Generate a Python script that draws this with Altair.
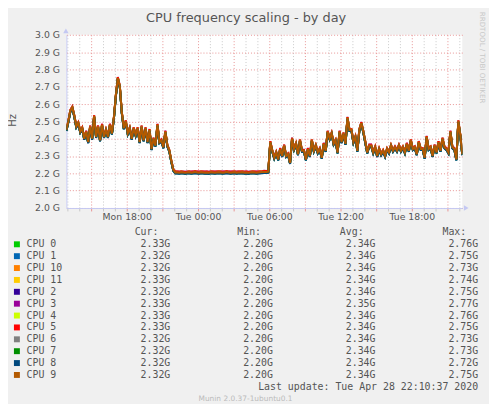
import altair as alt
import pandas as pd

# ---------------- data ----------------
cpu_names = ["CPU 0", "CPU 1", "CPU 10", "CPU 11", "CPU 2", "CPU 3",
             "CPU 4", "CPU 5", "CPU 6", "CPU 7", "CPU 8", "CPU 9"]
cpu_colors = ["#00CC00", "#0066B3", "#FF8000", "#FFCC00", "#330099", "#990099",
              "#CCFF00", "#FF0000", "#808080", "#008F00", "#00487D", "#B35A00"]
# small per-CPU spread around the common trace (GHz)
cpu_offset_ghz = [-0.003, -0.005, 0.001, 0.003, -0.002, 0.006,
                  0.004, 0.005, -0.001, -0.004, -0.006, 0.0]

# common frequency trace (GHz), one value every 10 minutes from Mon 12:55 UTC
freq_ghz = [
    2.45, 2.50, 2.56, 2.58, 2.53, 2.47, 2.49, 2.44, 2.46, 2.40,
    2.44, 2.38, 2.47, 2.40, 2.53, 2.41, 2.47, 2.39, 2.48, 2.41,
    2.45, 2.41, 2.48, 2.43, 2.52, 2.65, 2.75, 2.70, 2.55, 2.46,
    2.50, 2.43, 2.46, 2.40, 2.46, 2.42, 2.46, 2.38, 2.47, 2.39,
    2.46, 2.38, 2.45, 2.34, 2.40, 2.36, 2.48, 2.38, 2.39, 2.35,
    2.44, 2.36, 2.33, 2.27, 2.22, 2.205, 2.205, 2.204, 2.206, 2.205,
    2.203, 2.205, 2.206, 2.204, 2.205, 2.207, 2.205, 2.204, 2.206, 2.205,
    2.204, 2.205, 2.203, 2.206, 2.205, 2.204, 2.205, 2.206, 2.205, 2.204,
    2.205, 2.207, 2.205, 2.204, 2.205, 2.206, 2.204, 2.205, 2.205, 2.206,
    2.204, 2.205, 2.203, 2.205, 2.206, 2.205, 2.204, 2.205, 2.206, 2.207,
    2.209, 2.208, 2.21, 2.38, 2.33, 2.29, 2.32, 2.28, 2.34, 2.30,
    2.36, 2.30, 2.31, 2.26, 2.40, 2.34, 2.37, 2.31, 2.39, 2.33,
    2.33, 2.28, 2.34, 2.30, 2.39, 2.33, 2.36, 2.32, 2.34, 2.29,
    2.37, 2.33, 2.44, 2.40, 2.43, 2.37, 2.39, 2.32, 2.44, 2.38,
    2.43, 2.37, 2.52, 2.45, 2.45, 2.38, 2.41, 2.33, 2.45, 2.49,
    2.44, 2.38, 2.32, 2.36, 2.36, 2.32, 2.35, 2.30, 2.34, 2.31,
    2.33, 2.30, 2.34, 2.32, 2.36, 2.33, 2.35, 2.33, 2.36, 2.33,
    2.35, 2.32, 2.37, 2.33, 2.39, 2.34, 2.35, 2.31, 2.38, 2.34,
    2.34, 2.29, 2.41, 2.34, 2.35, 2.30, 2.36, 2.32, 2.38, 2.33,
    2.40, 2.35, 2.34, 2.32, 2.44, 2.35, 2.34, 2.28, 2.50, 2.42,
    2.31,
]

cur_vals = ["2.33G", "2.32G", "2.32G", "2.33G", "2.32G", "2.33G",
            "2.33G", "2.33G", "2.32G", "2.32G", "2.32G", "2.32G"]
min_vals = ["2.20G"] * 12
avg_vals = ["2.34G", "2.34G", "2.34G", "2.34G", "2.34G", "2.35G",
            "2.34G", "2.34G", "2.34G", "2.34G", "2.34G", "2.34G"]
max_vals = ["2.76G", "2.75G", "2.73G", "2.74G", "2.75G", "2.77G",
            "2.76G", "2.75G", "2.73G", "2.73G", "2.72G", "2.75G"]

stat_cols = ["Cur", "Min", "Avg", "Max"]
y_ticks = [2.0, 2.1, 2.2, 2.3, 2.4, 2.5, 2.6, 2.7, 2.8, 2.9, 3.0]

title_text = "CPU frequency scaling - by day"
update_text = "Last update: Tue Apr 28 22:10:37 2020"
version_text = "Munin 2.0.37-1ubuntu0.1"
rrd_text = "RRDTOOL / TOBI OETIKER"

# ---------------- tables ----------------
times = pd.date_range("2020-04-27 12:55", periods=len(freq_ghz), freq="10min", tz="UTC")
time_str = [t.strftime("%Y-%m-%dT%H:%M:%SZ") for t in times]

rows = []
for name, off in zip(cpu_names, cpu_offset_ghz):
    for t, v in zip(time_str, freq_ghz):
        rows.append({"cpu": name, "time": t, "val": round(v + off, 4)})
df_lines = pd.DataFrame(rows)

hour_ticks = pd.date_range("2020-04-27 13:00", "2020-04-28 22:00", freq="h", tz="UTC")
hour_tick_ms = [int(t.timestamp() * 1000) for t in hour_ticks]

row_order = ["hdr"] + cpu_names + ["upd", "ver"]

val_rows = []
for i, name in enumerate(cpu_names):
    for col, arr in zip(stat_cols, [cur_vals, min_vals, avg_vals, max_vals]):
        val_rows.append({"row": name, "col": col, "text": arr[i]})
val_rows.append({"row": "upd", "col": "Max", "text": update_text})
df_vals = pd.DataFrame(val_rows)
df_hdr = pd.DataFrame({"row": ["hdr"] * 4, "col": stat_cols, "text": [c + ":" for c in stat_cols]})
df_sw = pd.DataFrame({"cpu": cpu_names, "row": cpu_names})

# ---------------- styling ----------------
TXT = "#555555"
AXIS_C = "#C4C8F2"
MAJOR = "#E89494"
MINOR = "#C8C8C8"

color_scale = alt.Scale(domain=cpu_names, range=cpu_colors)
row_scale = alt.Scale(domain=row_order, range=[199.7, 367.7], padding=0)
col_scale = alt.Scale(domain=stat_cols, range=[105, 416], padding=0)

x_enc = alt.X(
    "time:T",
    scale=alt.Scale(type="utc", domain=[
        alt.DateTime(year=2020, month=4, date=27, hours=12, minutes=55, utc=True),
        alt.DateTime(year=2020, month=4, date=28, hours=22, minutes=15, utc=True)]),
    axis=alt.Axis(
        title=None, values=hour_tick_ms,
        labelExpr="utchours(datum.value) % 6 === 0 ? utcFormat(datum.value, '%a %H:%M') : ''",
        labelOverlap=False, labelFlush=False,
        labelFont="DejaVu Sans", labelFontSize=9.4, labelColor=TXT, labelPadding=2,
        tickSize=3,
        tickColor={"condition": {"test": "utchours(datum.value) % 3 === 0", "value": MAJOR}, "value": MINOR},
        grid=True, gridDash=[1, 2], gridWidth=1,
        gridColor={"condition": {"test": "utchours(datum.value) % 3 === 0", "value": MAJOR}, "value": MINOR},
        domainColor=AXIS_C, domainWidth=1),
)
y_enc = alt.Y(
    "val:Q",
    scale=alt.Scale(domain=[2.0, 3.0], nice=False, zero=False),
    axis=alt.Axis(
        values=y_ticks, labelExpr="format(datum.value, '.1f') + ' G'",
        labelFont="DejaVu Sans", labelFontSize=9.4, labelColor=TXT, labelPadding=7,
        ticks=False, grid=True, gridColor=MAJOR, gridDash=[1, 2],
        domainColor=AXIS_C,
        title="Hz", titleFont="DejaVu Sans", titleFontSize=10, titleFontWeight="normal",
        titleColor=TXT, titleAngle=270, titleAlign="center", titleBaseline="middle",
        titleX=-54, titleY=86),
)

lines = alt.Chart(df_lines).mark_line(strokeWidth=2, clip=True).encode(
    x=x_enc, y=y_enc,
    color=alt.Color("cpu:N", scale=color_scale, legend=None),
)

swatches = alt.Chart(df_sw).mark_square(size=36, opacity=1).encode(
    x=alt.value(-50),
    y=alt.Y("row:N", scale=row_scale, axis=None),
    color=alt.Color("cpu:N", scale=color_scale, legend=None),
)
names = alt.Chart(df_sw).mark_text(
    align="left", baseline="middle", font="DejaVu Sans Mono", fontSize=10, color=TXT
).encode(
    x=alt.value(-40.3),
    y=alt.Y("row:N", scale=row_scale, axis=None),
    text="cpu:N",
)
values = alt.Chart(df_vals).mark_text(
    align="right", baseline="middle", font="DejaVu Sans Mono", fontSize=10, color=TXT
).encode(
    x=alt.X("col:N", scale=col_scale, axis=None),
    y=alt.Y("row:N", scale=row_scale, axis=None),
    text="text:N",
)
headers = alt.Chart(df_hdr).mark_text(
    align="right", baseline="middle", font="DejaVu Sans Mono", fontSize=10, color=TXT, dx=-12
).encode(
    x=alt.X("col:N", scale=col_scale, axis=None),
    y=alt.Y("row:N", scale=row_scale, axis=None),
    text="text:N",
)
version = alt.Chart(pd.DataFrame({"row": ["ver"], "text": [version_text]})).mark_text(
    align="center", baseline="middle", font="DejaVu Sans", fontSize=7.5, color="#BBBBBB"
).encode(
    x=alt.value(181),
    y=alt.Y("row:N", scale=row_scale, axis=None),
    text="text:N",
)
title = alt.Chart(pd.DataFrame({"text": [title_text]})).mark_text(
    align="center", baseline="alphabetic", font="DejaVu Sans", fontSize=13, color=TXT
).encode(x=alt.value(181.5), y=alt.value(-13.2), text="text:N")

rrd = alt.Chart(pd.DataFrame({"text": [rrd_text]})).mark_text(
    align="center", baseline="middle", font="DejaVu Sans", fontSize=7.2, color="#C8C8C8", angle=90
).encode(x=alt.value(420), y=alt.value(23), text="text:N")

arrow_up = alt.Chart(pd.DataFrame({"a": [1]})).mark_point(
    shape="triangle-up", filled=True, size=30, color=AXIS_C, opacity=1
).encode(x=alt.value(-0.5), y=alt.value(-4))
arrow_right = alt.Chart(pd.DataFrame({"a": [1]})).mark_point(
    shape="triangle-right", filled=True, size=30, color=AXIS_C, opacity=1
).encode(x=alt.value(404), y=alt.value(175))

chart = alt.layer(
    lines, swatches, names, values, headers, version, title, rrd, arrow_up, arrow_right
).resolve_scale(
    x="independent", y="independent"
).properties(
    width=400, height=175,
    autosize=alt.AutoSizeParams(type="none"),
    padding={"left": 59, "top": 25, "right": 27, "bottom": 196},
).configure(
    background="#F0F0F0"
).configure_view(
    fill="white", strokeWidth=0
)

chart.save("out.html", embed_options={"renderer": "svg", "actions": False})
